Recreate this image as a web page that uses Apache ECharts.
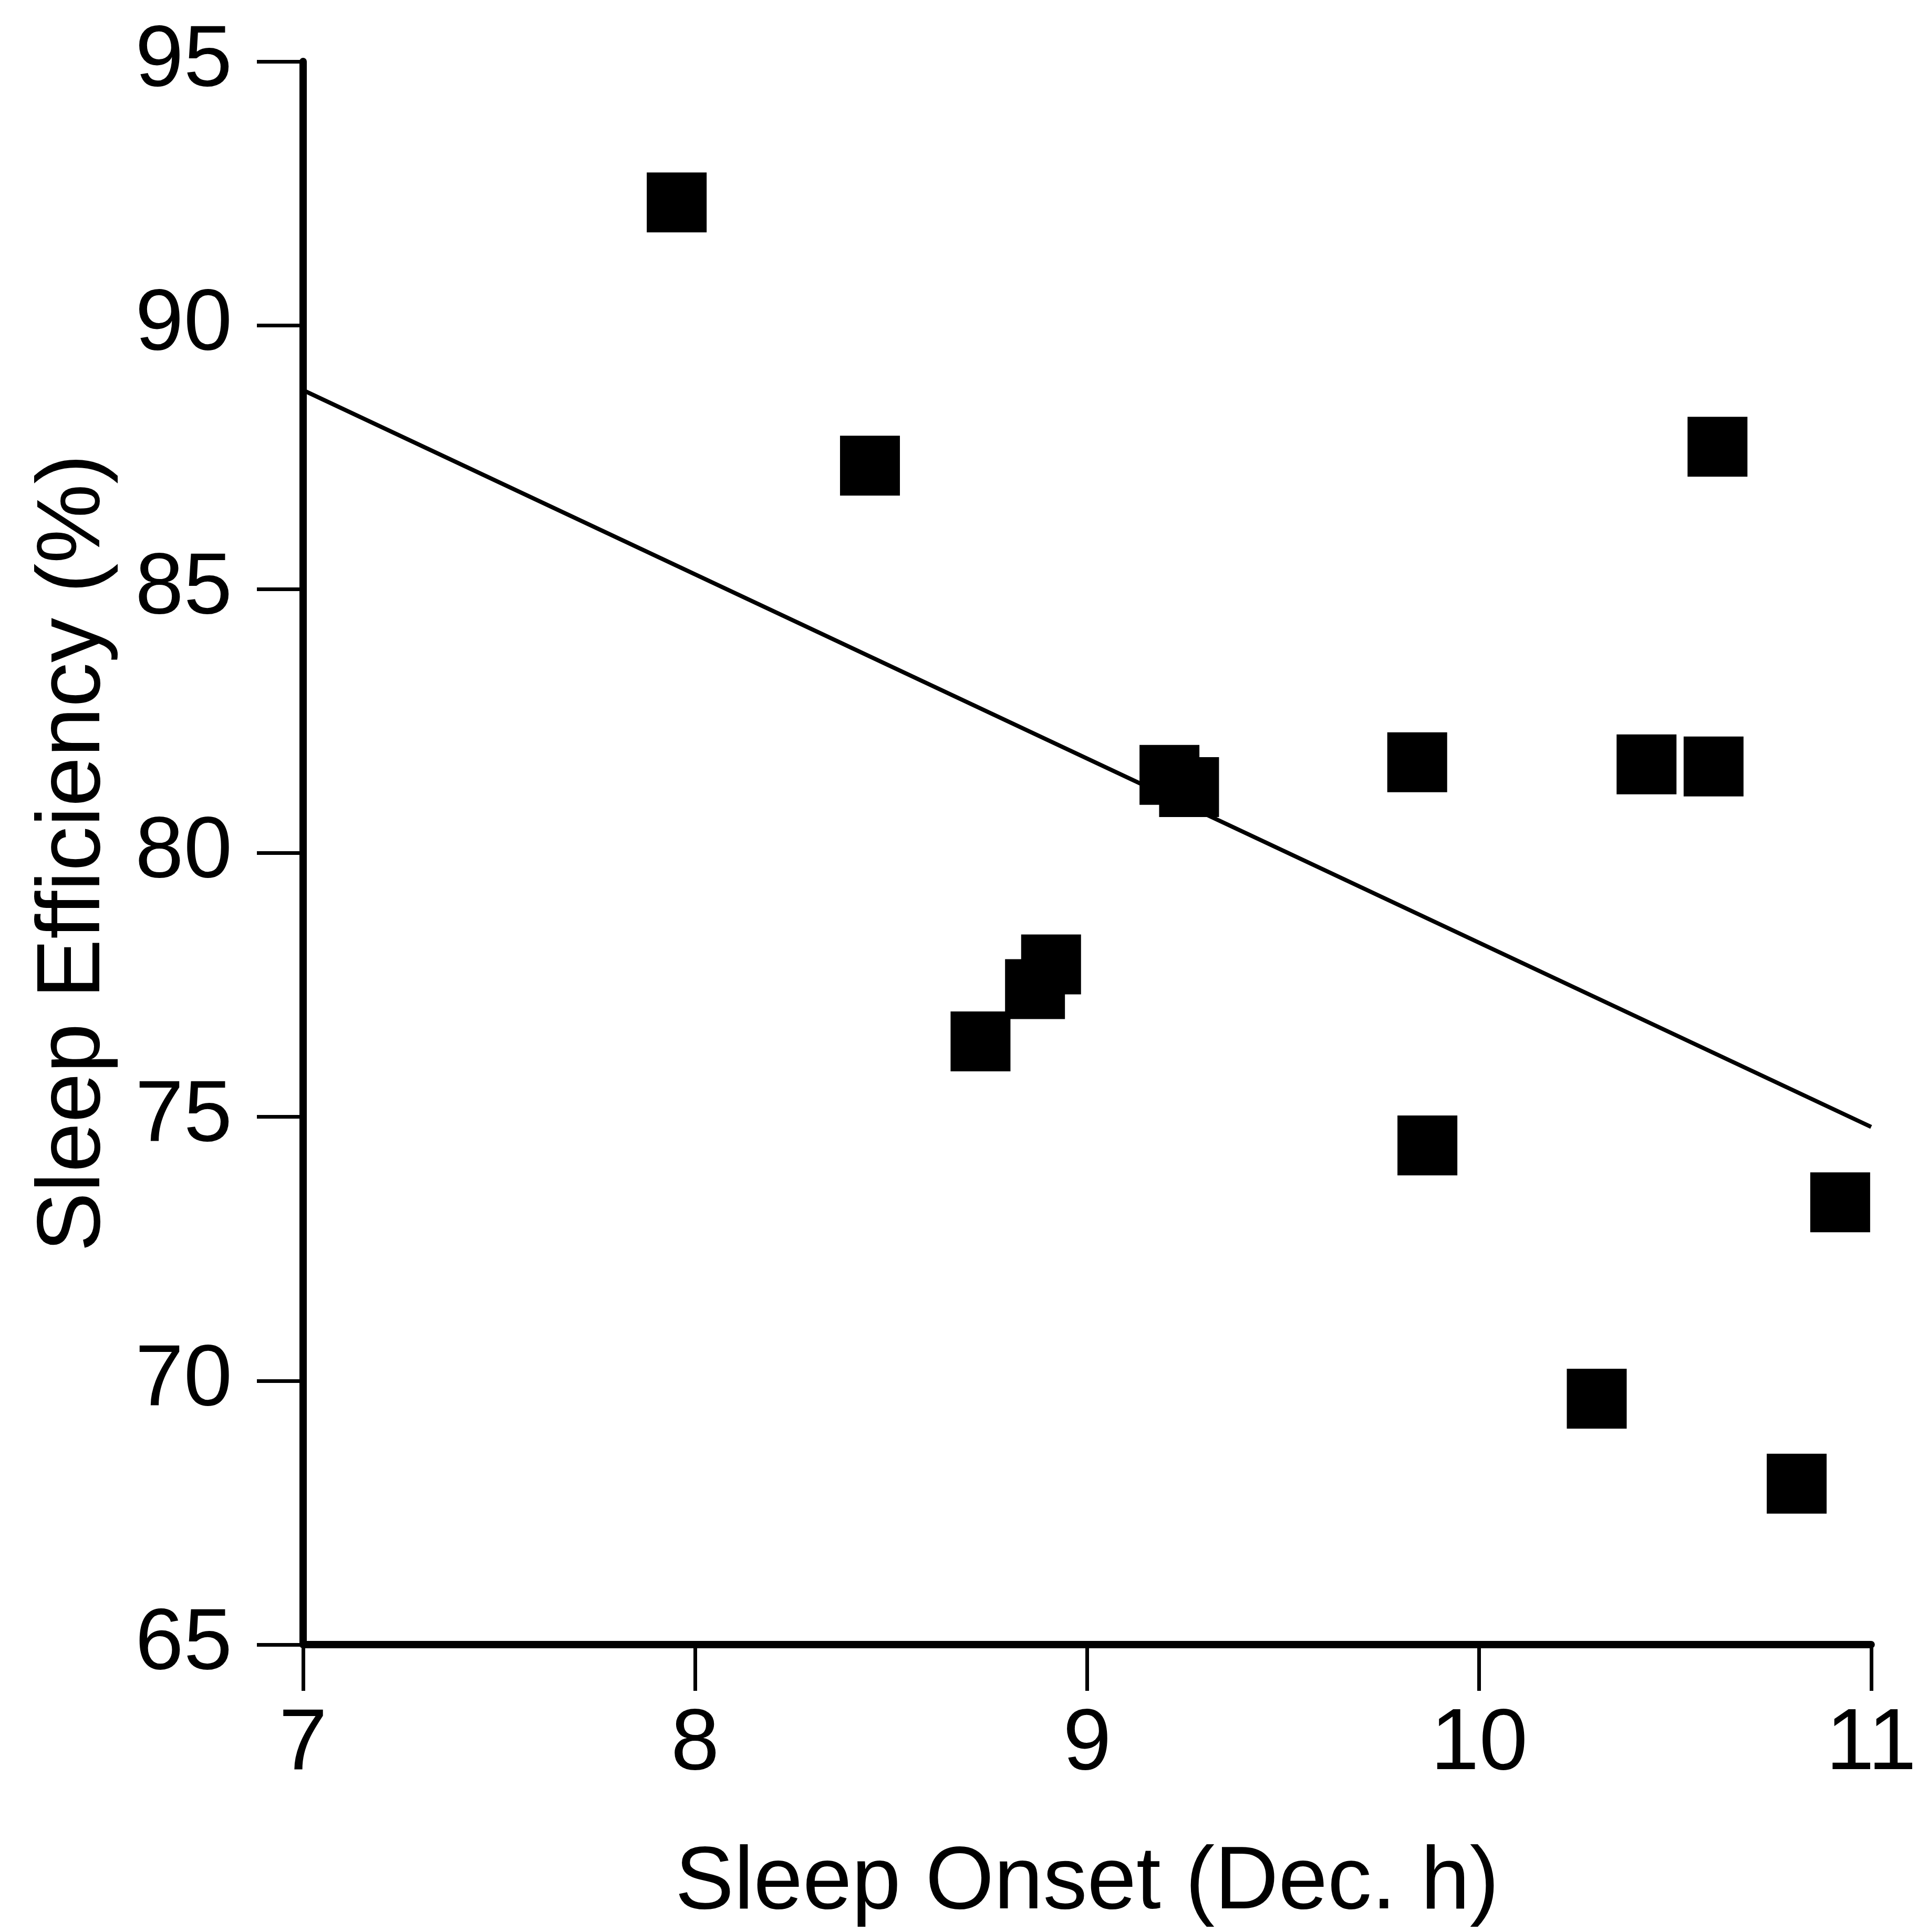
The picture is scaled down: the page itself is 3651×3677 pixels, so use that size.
<!DOCTYPE html>
<html>
<head>
<meta charset="utf-8">
<script src="https://cdn.jsdelivr.net/npm/echarts@6/dist/echarts.min.js"></script>
<style>
html,body{margin:0;padding:0;background:#fff;}
#chart{width:3651px;height:3677px;}
</style>
</head>
<body>
<div id="chart"></div>
<script>
// Data
const sleepOnset = [7.953, 8.446, 8.728, 8.867, 8.908, 9.210, 9.260, 9.842, 9.868, 10.300, 10.427, 10.598, 10.608, 10.810, 10.921];
const sleepEfficiency = [92.33, 87.34, 76.43, 77.42, 77.89, 81.48, 81.25, 81.72, 74.46, 69.66, 81.68, 81.64, 87.70, 68.05, 73.38];
const fitX = [7, 11];
const fitY = [88.77, 74.81];
const xTicks = [7, 8, 9, 10, 11];
const yTicks = [65, 70, 75, 80, 85, 90, 95];
const xName = 'Sleep Onset (Dec. h)';
const yName = 'Sleep Efficiency (%)';

const points = sleepOnset.map((x, i) => [x, sleepEfficiency[i]]);
const fitLine = fitX.map((x, i) => [x, fitY[i]]);

const font = 'Liberation Sans, Arial, sans-serif';
const chart = echarts.init(document.getElementById('chart'), null, {renderer: 'canvas'});
chart.setOption({
  animation: false,
  backgroundColor: '#ffffff',
  grid: {left: 577, top: 117, width: 2996, height: 3013, containLabel: false},
  xAxis: {
    type: 'value', min: xTicks[0], max: xTicks[xTicks.length - 1], interval: 1,
    name: xName, nameLocation: 'middle', nameGap: 372,
    nameTextStyle: {fontFamily: font, fontSize: 168, color: '#000'},
    axisLine: {show: true, onZero: false, lineStyle: {color: '#000', width: 14}},
    axisTick: {show: true, inside: false, length: 88, lineStyle: {color: '#000', width: 7}},
    axisLabel: {fontFamily: font, fontSize: 166, color: '#000', margin: 108},
    splitLine: {show: false}
  },
  yAxis: {
    type: 'value', min: yTicks[0], max: yTicks[yTicks.length - 1], interval: 5,
    name: yName, nameLocation: 'middle', nameGap: 350,
    nameTextStyle: {fontFamily: font, fontSize: 170, color: '#000'},
    axisLine: {show: true, onZero: false, lineStyle: {color: '#000', width: 14}},
    axisTick: {show: true, inside: false, length: 88, lineStyle: {color: '#000', width: 7}},
    axisLabel: {fontFamily: font, fontSize: 166, color: '#000', margin: 135},
    splitLine: {show: false}
  },
  series: [
    {
      type: 'line', data: fitLine, symbol: 'none', z: 2,
      lineStyle: {color: '#000', width: 8}
    },
    {
      type: 'scatter', data: points, symbol: 'rect', symbolSize: 114, z: 3,
      itemStyle: {color: '#000', opacity: 1}
    }
  ]
});
</script>
</body>
</html>
